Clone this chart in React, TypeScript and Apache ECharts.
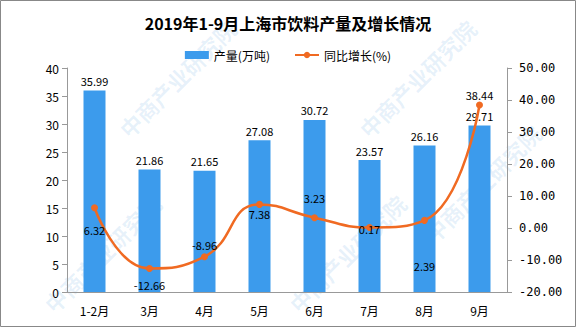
import React, { useEffect, useRef } from "react";
import * as echarts from "echarts";

const categories = ["1-2月", "3月", "4月", "5月", "6月", "7月", "8月", "9月"];
const output = [35.99, 21.86, 21.65, 27.08, 30.72, 23.57, 26.16, 29.71];
const growth = [6.32, -12.66, -8.96, 7.38, 3.23, 0.17, 2.39, 38.44];
const growthLabelOffsets: [number, number][] = [
  [0, 22], [0, 16], [0, -12], [0, 10], [0, -20], [0, 2], [0, 46], [0, -10],
];
const watermarks: [number, number][] = [
  [115, 125], [355, 125], [40, 300], [285, 300], [420, 230],
];

export default function App() {
  const ref = useRef<HTMLDivElement>(null);
  useEffect(() => {
    const chart = echarts.init(ref.current!, null, { renderer: "svg" });
    const font = "'Noto Sans CJK SC', sans-serif";
    chart.setOption({
      animation: false,
      backgroundColor: "#fff",
      textStyle: { fontFamily: font },
      title: {
        text: "2019年1-9月上海市饮料产量及增长情况",
        left: "center",
        top: 10,
        textStyle: { fontSize: 16, fontWeight: "bold", color: "#000", fontFamily: font },
      },
      legend: {
        top: 44,
        left: "center",
        itemGap: 24,
        itemWidth: 24,
        itemHeight: 8,
        textStyle: { fontSize: 12, color: "#000" },
        data: [
          { name: "产量(万吨)", icon: "rect" },
          { name: "同比增长(%)" },
        ],
      },
      grid: { left: 67, right: 69, top: 68, bottom: 35, containLabel: false },
      xAxis: {
        type: "category",
        data: categories,
        axisLine: { lineStyle: { color: "#999" } },
        axisTick: { lineStyle: { color: "#999" }, length: 5 },
        axisLabel: { color: "#000", fontSize: 12, margin: 12 },
      },
      yAxis: [
        {
          type: "value",
          min: 0,
          max: 40,
          interval: 5,
          splitLine: { show: false },
          axisLine: { show: true, lineStyle: { color: "#999" } },
          axisTick: { show: true, length: 5, lineStyle: { color: "#999" } },
          axisLabel: { color: "#000", fontSize: 12 },
        },
        {
          type: "value",
          min: -20,
          max: 50,
          interval: 10,
          splitLine: { show: false },
          axisLine: { show: true, lineStyle: { color: "#999" } },
          axisTick: { show: true, length: 5, lineStyle: { color: "#999" } },
          axisLabel: {
            color: "#000",
            fontSize: 12,
            margin: 12,
            fontFamily: "'DejaVu Sans Mono', monospace",
            formatter: (v: number) => v.toFixed(2),
          },
        },
      ],
      series: [
        {
          name: "产量(万吨)",
          type: "bar",
          data: output,
          barWidth: "40%",
          itemStyle: { color: "#3C9BEC" },
          label: { show: true, position: "top", color: "#000", fontSize: 11, distance: 4 },
        },
        {
          name: "同比增长(%)",
          type: "line",
          yAxisIndex: 1,
          smooth: true,
          data: growth.map((v, i) => ({
            value: v,
            label: { offset: growthLabelOffsets[i] },
          })),
          symbol: "circle",
          symbolSize: 7,
          lineStyle: { color: "#F06A22", width: 2.5 },
          itemStyle: { color: "#F06A22" },
          label: {
            show: true,
            position: "inside",
            color: "#000",
            fontSize: 11,
            formatter: (p: any) => p.value.toFixed(2),
          },
          z: 5,
        },
      ],
      graphic: [
        ...watermarks.map(([x, y]) => ({
          type: "text",
          x,
          y,
          rotation: Math.PI / 4,
          silent: true,
          z: 0,
          style: {
            text: "中商产业研究院",
            fill: "rgba(70,150,220,0.13)",
            font: "bold 22px 'Noto Sans CJK SC'",
          },
        })),
        {
          type: "rect",
          shape: { x: 0.5, y: 0.5, width: 575, height: 326 },
          style: { fill: "none", stroke: "#888", lineWidth: 1 },
          silent: true,
        },
      ],
    });
    return () => chart.dispose();
  }, []);
  return (
    <div
      ref={ref}
      style={{ width: 576, height: 327, position: "fixed", left: 0, top: 0 }}
    />
  );
}
